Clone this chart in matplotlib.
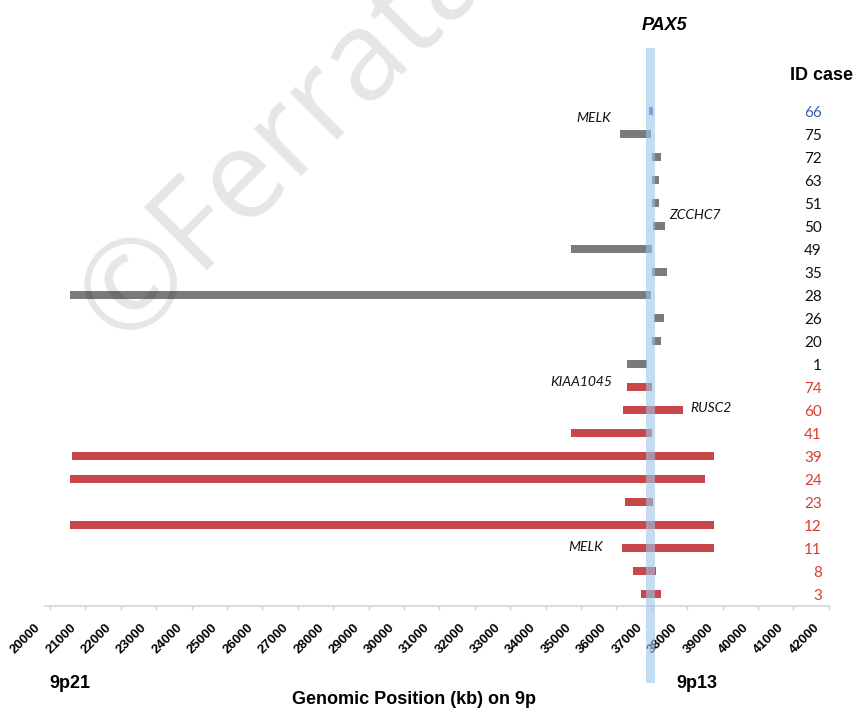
import matplotlib
matplotlib.use('Agg')
import matplotlib.pyplot as plt
import matplotlib.transforms as mtransforms
import numpy as np

# cases listed top to bottom as in the figure
case_ids = ['66', '75', '72', '63', '51', '50', '49', '35', '28', '26', '20', '1',
            '74', '60', '41', '39', '24', '23', '12', '11', '8', '3']
case_group = ['blue'] + ['grey'] * 11 + ['red'] * 10
# deleted segment on 9p (kb)
seg_start = [36920, 36110, 37000, 37000, 37000, 37040, 34720, 37000, 20570, 37070, 37000, 36300,
             36300, 36200, 34720, 20610, 20570, 36240, 20570, 36160, 36460, 36700]
seg_end = [37030, 36980, 37260, 37195, 37195, 37380, 37000, 37440, 36980, 37340, 37260, 36880,
           37000, 37890, 37000, 38770, 38510, 37040, 38770, 38770, 37110, 37260]

# PAX5 locus (kb)
pax5_start = 36840
pax5_end = 37090

# gene annotations: name, x position (kb), row position
gene_names = ['MELK', 'ZCCHC7', 'KIAA1045', 'RUSC2', 'MELK']
gene_x = [35370, 38220, 35000, 38670, 35140]
gene_row = [20.7, 16.5, 9.23, 8.09, 2.04]

tick_values = list(range(20000, 42001, 1000))

bar_colors = {'blue': '#4a78c8', 'grey': '#777b7b', 'red': '#c8474a'}
label_colors = {'blue': '#3b5bab', 'grey': '#111111', 'red': '#dc3b33'}

bold_font = 'Liberation Sans'
body_font = 'Lato'

fig = plt.figure(figsize=(8.55, 7.09), dpi=100)
ax = fig.add_axes([0.05263, 0.14598, 0.9173, 0.71368])

n = len(case_ids)
rows = [n - 1 - i for i in range(n)]
widths = [e - s for s, e in zip(seg_start, seg_end)]
ax.barh(rows, widths, left=seg_start, height=0.36,
        color=[bar_colors[g] for g in case_group], zorder=2)

# PAX5 band, running past the axes top and bottom
ax.axvspan(pax5_start, pax5_end, ymin=-0.1532, ymax=1.1018, color='#9ec5e6',
           alpha=0.6, lw=0, clip_on=False, zorder=3)

ax.set_xlim(19859, 42017)
ax.set_ylim(-0.5, n - 0.5)

for s in ['top', 'right', 'left']:
    ax.spines[s].set_visible(False)
ax.spines['bottom'].set_color('#d4d4d4')
ax.spines['bottom'].set_linewidth(1.2)
ax.set_yticks([])
ax.set_xticks(tick_values)
ax.set_xticklabels([str(t) for t in tick_values], rotation=45, ha='right',
                   fontsize=9.5, fontweight='bold', family=bold_font)
ax.tick_params(axis='x', length=3, width=1, color='#d4d4d4', pad=8.5)
shift = mtransforms.ScaledTranslation(-7 / 100, 0, fig.dpi_scale_trans)
for lab in ax.get_xticklabels():
    lab.set_transform(lab.get_transform() + shift)

# case labels on the right
for i, cid in enumerate(case_ids):
    ax.text(41808, rows[i], cid, ha='right', va='center_baseline', fontsize=11,
            family=body_font, color=label_colors[case_group[i]])

for name, gx, gy in zip(gene_names, gene_x, gene_row):
    ax.text(gx, gy, name, ha='center', va='center', fontsize=10, style='italic',
            family=body_font, color='#111111')

def fig_xy(px, py):
    return px / 855, 1 - py / 709

fig.text(*fig_xy(664.5, 25), 'PAX5', ha='center', va='center', fontsize=13,
         fontweight='bold', style='italic', family=bold_font)
fig.text(*fig_xy(821, 75), 'ID case', ha='center', va='center', fontsize=13,
         fontweight='bold', family=bold_font)
fig.text(*fig_xy(70, 684), '9p21', ha='center', va='center', fontsize=13,
         fontweight='bold', family=bold_font)
fig.text(*fig_xy(696.5, 684), '9p13', ha='center', va='center', fontsize=13,
         fontweight='bold', family=bold_font)
fig.text(*fig_xy(414, 700), 'Genomic Position (kb) on 9p', ha='center', va='center',
         fontsize=13, fontweight='bold', family=bold_font)

# journal watermark
fig.text(*fig_xy(124, 347), '\u00a9Ferrata', rotation=45, rotation_mode='anchor',
         ha='left', va='baseline', fontsize=90, family='Open Sans', color='black',
         alpha=0.1, zorder=10)

fig.savefig('out.png', dpi=100)
